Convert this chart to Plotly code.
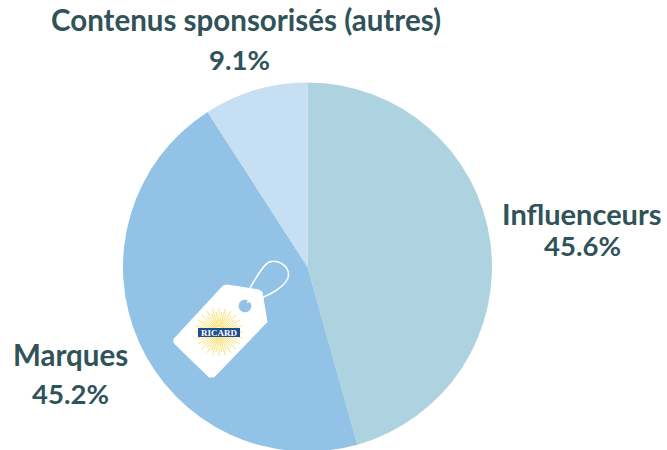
import math
import plotly.graph_objects as go

labels = ["Influenceurs", "Marques", "Contenus sponsorisés (autres)"]
values = [45.6, 45.2, 9.1]
colors = ["#AED3E0", "#92C3E6", "#C7DFF2"]
text_color = "#2F5359"
font = "Lato"
W, H = 667, 452

def X(px):
    return px / W
def Y(py):
    return 1 - py / H

fig = go.Figure(go.Pie(
    labels=labels, values=values, sort=False, direction="clockwise", rotation=0,
    marker=dict(colors=colors, line=dict(width=0)),
    textinfo="none", hoverinfo="label+percent", showlegend=False,
    domain=dict(x=[X(307.5 - 184.5), X(307.5 + 184.5)], y=[Y(451.5), Y(82.5)]),
))

for x, y, t, s in [
    (582, 213, "Influenceurs", 29),
    (582, 245, "45.6%", 27.5),
    (70, 354.5, "Marques", 29.5),
    (70, 393, "45.2%", 27.5),
    (246, 20, "Contenus sponsorisés (autres)", 29.5),
    (239.5, 59, "9.1%", 27.5),
]:
    fig.add_annotation(x=X(x), y=Y(y), xref="paper", yref="paper", text=t, showarrow=False,
                       xanchor="center", yanchor="middle", align="center",
                       font=dict(family=font, size=s, color=text_color, weight=700))

def path(points, close=True):
    s = "M " + " L ".join(f"{X(a):.5f},{Y(b):.5f}" for a, b in points)
    return s + (" Z" if close else "")

def add_path(d, **kw):
    fig.add_shape(type="path", path=d, xref="paper", yref="paper", layer="above", **kw)

# Price tag decoration
tag = [(227, 285), (259, 290), (262, 292), (267, 322), (214, 377), (209, 377), (174, 343), (174, 339), (223, 286)]
add_path(path(tag), fillcolor="white", line=dict(color="white", width=1))
hole = [(245 + 6.3 * math.cos(a / 16 * math.pi), 306 + 6.3 * math.sin(a / 16 * math.pi)) for a in range(32)]
add_path(path(hole), fillcolor="#92C3E6", line=dict(width=0))
c = lambda a, b: f"{X(a):.5f},{Y(b):.5f}"
string = (f"M {c(247, 302)} C {c(260, 300)} {c(283, 290)} {c(288, 278)} "
          f"C {c(291, 266)} {c(278, 259)} {c(269, 262)} C {c(262, 266)} {c(256, 278)} {c(250, 288)}")
add_path(string, line=dict(color="white", width=1.5))
cx, cy = 219, 332
for i in range(48):
    a = i / 48 * 2 * math.pi
    r = 24 if i % 2 == 0 else 20
    add_path(path([(cx + 5 * math.cos(a), cy + 5 * math.sin(a)), (cx + r * math.cos(a), cy + r * math.sin(a))], close=False),
             line=dict(color="#FBE27A", width=1))
fig.add_shape(type="rect", xref="paper", yref="paper", x0=X(198), x1=X(240), y0=Y(337), y1=Y(328),
              fillcolor="#1F4E8C", line=dict(width=0), layer="above")
fig.add_annotation(x=X(219), y=Y(332.5), xref="paper", yref="paper", text="RICARD", showarrow=False,
                   xanchor="center", yanchor="middle",
                   font=dict(family="Liberation Serif", size=9, color="white", weight=700))

fig.update_layout(width=W, height=H, margin=dict(l=0, r=0, t=0, b=0),
                  paper_bgcolor="white", plot_bgcolor="white")
fig.write_html("out.html", config={"displayModeBar": False},
               post_script="document.body.style.margin='0';")
